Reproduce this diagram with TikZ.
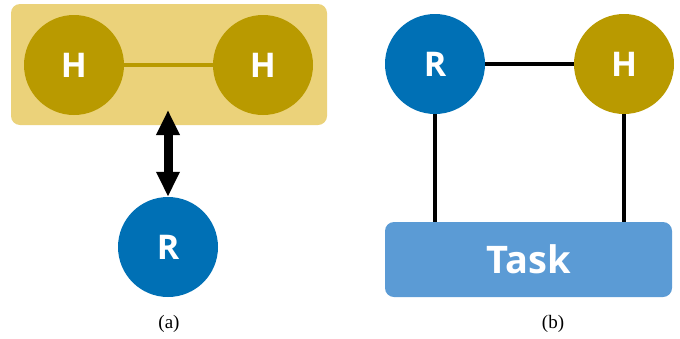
\documentclass[tikz,border=0pt]{standalone}
\usepackage{fontspec}
\setmainfont{Liberation Serif}
\newfontfamily\labfont{Open Sans}
\usetikzlibrary{arrows.meta}
\definecolor{hgold}{HTML}{B99A00}
\definecolor{lgold}{HTML}{EBD27A}
\definecolor{rblue}{HTML}{0070B5}
\definecolor{tblue}{HTML}{5B9BD5}
\begin{document}
\begin{tikzpicture}[x=1pt,y=-1pt,
  agent/.style={circle,minimum size=100pt,inner sep=0pt,text=white,font=\labfont\bfseries\fontsize{34}{34}\selectfont},
  hum/.style={agent,fill=hgold},
  rob/.style={agent,fill=rblue},
  link/.style={line width=4pt,black},
  subcap/.style={font=\fontsize{19}{19}\selectfont}]
\useasboundingbox (0,0) rectangle (680,338);
% panel (a)
\node[fill=lgold,rounded corners=9pt,minimum width=316pt,minimum height=121pt,inner sep=0pt] (grp) at (169,64.5) {};
\node[hum] (h1) at (74,65) {H};
\node[hum] (h2) at (263,65) {H};
\draw[line width=3.5pt,hgold] (h1) -- (h2);
\node[rob] (r1) at (168,247) {R};
\coordinate (atop) at (168,110);
\draw[line width=9pt,{Triangle[width=22pt,length=25pt]}-{Triangle[width=22pt,length=25pt]}] (atop) -- (r1.north);
\node[subcap] (capa) at (169,324) {(a)};
% panel (b)
\node[rob] (r2) at (435,64) {R};
\node[hum] (h3) at (624,64) {H};
\node[fill=tblue,rounded corners=9pt,minimum width=287pt,minimum height=75pt,inner sep=0pt,text=white,font=\labfont\bfseries\fontsize{38}{38}\selectfont] (task) at (528.5,259.5) {Task};
\draw[link] (r2) -- (h3);
\draw[link] (r2.south) -- (r2.south |- task.north);
\draw[link] (h3.south) -- (h3.south |- task.north);
\node[subcap] (capb) at (553,324) {(b)};
\end{tikzpicture}
\end{document}
